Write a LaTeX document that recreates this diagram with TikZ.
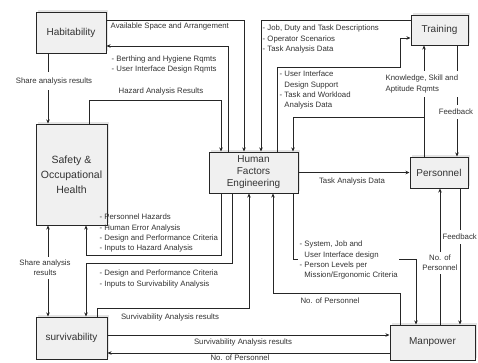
\documentclass[tikz,border=0pt]{standalone}
\usepackage{fontspec}
\setmainfont{Liberation Sans}
\usetikzlibrary{arrows.meta,calc,shadows}
\begin{document}
\begin{tikzpicture}[x=1pt,y=-1pt,
  box/.style={draw=black!85, line width=1pt, fill=gray!12, align=center, inner sep=0pt,
    font=\fontsize{10}{12}\selectfont, text=black!80,
    drop shadow={shadow xshift=2pt, shadow yshift=2pt, fill=gray!30, opacity=0.7}},
  lab/.style={font=\fontsize{7.8}{10.2}\selectfont, text=black!80, inner sep=0.5pt, align=left},
  wlab/.style={lab, fill=white, inner sep=1.5pt},
  conn/.style={draw=black!85, line width=0.8pt},
  arr/.style={conn, -{Stealth[length=4pt,width=3.5pt]}},
  darr/.style={conn, {Stealth[length=4pt,width=3.5pt]}-{Stealth[length=4pt,width=3.5pt]}},
]
\fill[white] (0,0) rectangle (478,362);
\useasboundingbox (0,0) rectangle (478,362);

% boxes
\node[box, minimum width=70pt, minimum height=41pt] (hab) at (71,32.5) {Habitability};
\node[box, minimum width=71pt, minimum height=101pt, font=\fontsize{10.5}{15}\selectfont] (safety) at (71.5,174.5) {Safety \&\\Occupational\\Health};
\node[box, minimum width=71pt, minimum height=42pt] (surv) at (71.5,338) {survivability};
\node[box, minimum width=89pt, minimum height=41pt] (hfe) at (253.5,172.5) {Human\\Factors\\Engineering};
\node[box, minimum width=57pt, minimum height=30pt] (train) at (439.5,30) {Training};
\node[box, minimum width=58pt, minimum height=31pt] (pers) at (439,172.5) {Personnel};
\node[box, minimum width=85pt, minimum height=35pt] (man) at (432.5,342.5) {Manpower};

\coordinate (j) at (424,117);

% connectors
\draw[arr] (hab.east |- 0,20) -- (244,20) -- (244,0 |- hfe.north);
\draw[arr] (228,0 |- hfe.north) -- (228,46) -- (hab.east |- 0,46);
\draw[arr] (48,0 |- hab.south) -- (48,0 |- safety.north);
\draw[arr] (89,0 |- safety.north) -- (89,100) -- (221,100) -- (221,0 |- hfe.north);
\draw[arr] (train.west |- 0,20) -- (261,20) -- (261,0 |- hfe.north);
\draw[arr] (277,0 |- hfe.north) -- (277,67) -- (400,67) -- (400,38) -- (train.west |- 0,38);
\draw[arr] (424,0 |- pers.north) -- (424,0 |- train.south);
\draw[arr] (j) -- (293,117) -- (293,0 |- hfe.north);
\draw[arr] (457,0 |- train.south) -- (457,0 |- pers.north);
\draw[arr] (hfe.east) -- (pers.west);
\draw[arr] (440,0 |- man.north) -- (440,0 |- pers.south);
\draw[arr] (460,0 |- pers.south) -- (460,0 |- man.north);
\draw[arr] (293,0 |- hfe.south) -- (293,259) -- (416,259) -- (416,0 |- man.north);
\draw[arr] (400,0 |- man.north) -- (400,293) -- (273,293) -- (273,0 |- hfe.south);
\draw[arr] (221,0 |- hfe.south) -- (221,255) -- (86,255) -- (86,0 |- safety.south);
\draw[arr] (232,0 |- hfe.south) -- (232,263) -- (86,263) -- (86,0 |- surv.north);
\draw[darr] (48,0 |- safety.south) -- (48,0 |- surv.north);
\draw[arr] (97,0 |- surv.north) -- (97,308) -- (249,308) -- (249,0 |- hfe.south);
\draw[arr] (surv.east |- 0,335) -- (man.west |- 0,335);
\draw[arr] (man.west |- 0,353) -- (surv.east |- 0,353);

% labels
\node[lab, anchor=north west] at (110,22.5) {Available Space and Arrangement};
\node[lab, anchor=north west] at (111,55) {- Berthing and Hygiene Rqmts\\- User Interface Design Rqmts};
\node[wlab, inner ysep=5pt] at (54,81) {Share analysis results};
\node[lab] at (161,91) {Hazard Analysis Results};
\node[lab, anchor=north west] at (262,24.5) {- Job, Duty and Task Descriptions\\- Operator Scenarios\\- Task Analysis Data};
\node[lab, anchor=north west] at (279,70.5) {- User Interface\\\phantom{- }Design Support\\- Task and Workload\\\phantom{- }Analysis Data};
\node[wlab, anchor=north west, inner ysep=4pt] at (384,71) {Knowledge, Skill and\\Aptitude Rqmts};
\node[wlab, inner ysep=4pt] at (456,112) {Feedback};
\node[lab] at (352,181) {Task Analysis Data};
\node[wlab, align=center, inner ysep=3pt] at (440,263) {No. of\\Personnel};
\node[wlab, anchor=east, inner xsep=0.5pt, inner ysep=4pt] at (477.5,237) {Feedback};
\node[wlab, anchor=north west, inner ysep=0.5pt] at (298,240.5) {- System, Job and\\\phantom{- }User Interface design\\- Person Levels per\\\phantom{- }Mission/Ergonomic Criteria};
\node[lab] at (330,301) {No. of Personnel};
\node[lab, anchor=north west] at (99,213.5) {- Personnel Hazards\\- Human Error Analysis\\- Design and Performance Criteria\\- Inputs to Hazard Analysis};
\node[lab, anchor=north west] at (99,269.5) {- Design and Performance Criteria\\- Inputs to Survivability Analysis};
\node[lab] at (170,317) {Survivability Analysis results};
\node[lab] at (243,342) {Survivability Analysis results};
\node[lab] at (240,358) {No. of Personnel};
\node[wlab, align=center, inner ysep=3pt] at (45,268) {Share analysis\\results};
\end{tikzpicture}
\end{document}
